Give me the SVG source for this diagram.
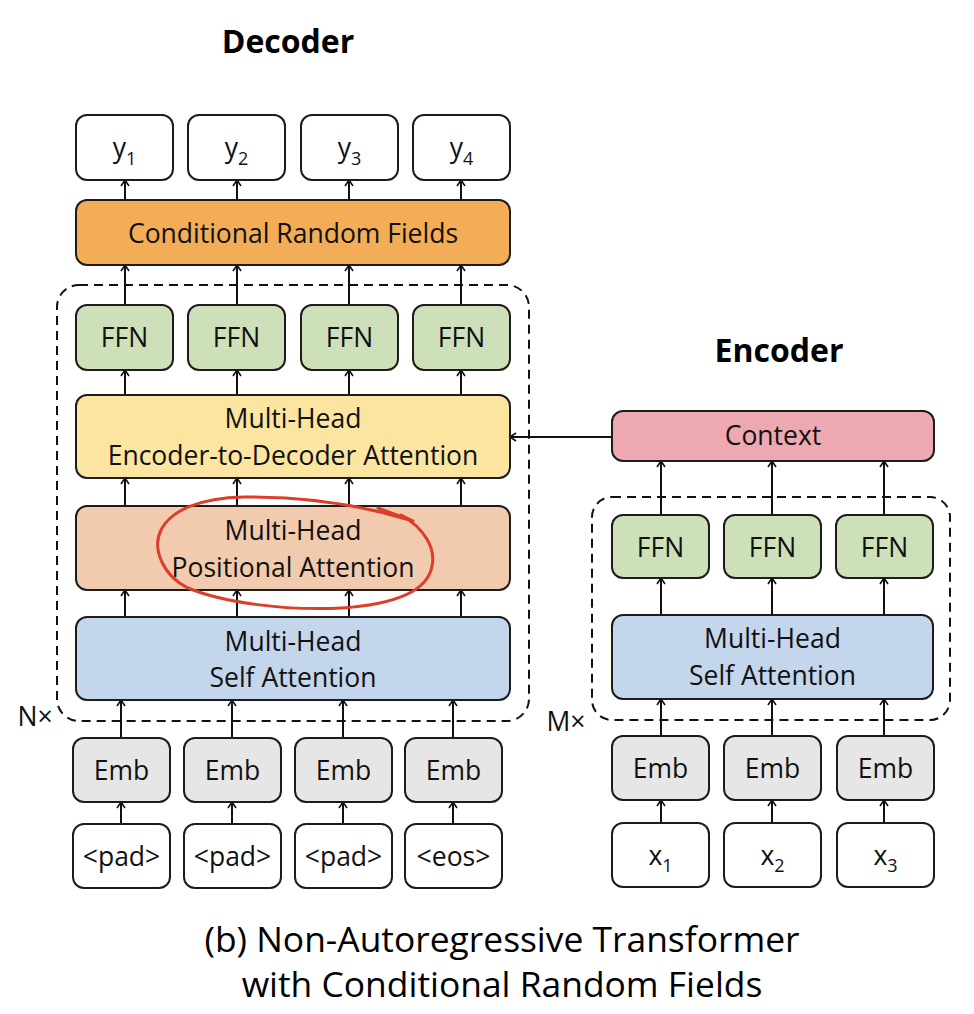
<svg xmlns="http://www.w3.org/2000/svg" width="974" height="1014" viewBox="0 0 974 1014">
<style>
.n{stroke:#1c1c1c;stroke-width:2}
.t{font-family:"Open Sans","Liberation Sans",sans-serif;font-size:26.5px;fill:#111;text-anchor:middle}
.sub{font-size:18px}
.title{font-family:"Open Sans","Liberation Sans",sans-serif;font-size:32px;font-weight:bold;fill:#000;text-anchor:middle}
.cap{font-family:"Open Sans","Liberation Sans",sans-serif;font-size:35.4px;fill:#000;text-anchor:middle}
.c line{stroke:#111;stroke-width:2;marker-end:url(#ah)}
.dash{fill:none;stroke:#111;stroke-width:2;stroke-dasharray:9 6}
.w{fill:#fff}.crf{fill:#F2AD56}.ffn{fill:#CDE0BA}.ed{fill:#FBE5A0}.pos{fill:#F2CBAE}.sa{fill:#C3D6EC}.emb{fill:#E7E6E6}.ctx{fill:#EEA8B2}
</style>
<defs>
<marker id="ah" viewBox="0 0 10 10" refX="9" refY="5" markerWidth="10" markerHeight="10" markerUnits="userSpaceOnUse" orient="auto">
<path d="M3,1 L9,5 L3,9" fill="none" stroke="#111" stroke-width="1.6"/>
</marker>
</defs>
<rect width="974" height="1014" fill="#fff"/>

<text class="title" x="288" y="53">Decoder</text>
<text class="title" x="779" y="362">Encoder</text>

<rect id="dec-block" class="dash" x="57" y="285" width="472" height="436" rx="22"/>
<rect id="enc-block" class="dash" x="592" y="497" width="358" height="223" rx="20"/>
<text class="t" x="35" y="726">N×</text>
<text class="t" x="566" y="731">M×</text>

<g class="c" id="connectors">
<line x1="125" y1="200" x2="125" y2="180"/><line x1="237" y1="200" x2="237" y2="180"/><line x1="349" y1="200" x2="349" y2="180"/><line x1="461" y1="200" x2="461" y2="180"/>
<line x1="125" y1="305" x2="125" y2="265"/><line x1="237" y1="305" x2="237" y2="265"/><line x1="349" y1="305" x2="349" y2="265"/><line x1="461" y1="305" x2="461" y2="265"/>
<line x1="125" y1="395" x2="125" y2="370"/><line x1="237" y1="395" x2="237" y2="370"/><line x1="349" y1="395" x2="349" y2="370"/><line x1="461" y1="395" x2="461" y2="370"/>
<line x1="125" y1="506" x2="125" y2="478"/><line x1="237" y1="506" x2="237" y2="478"/><line x1="349" y1="506" x2="349" y2="478"/><line x1="461" y1="506" x2="461" y2="478"/>
<line x1="125" y1="617" x2="125" y2="590"/><line x1="237" y1="617" x2="237" y2="590"/><line x1="349" y1="617" x2="349" y2="590"/><line x1="461" y1="617" x2="461" y2="590"/>
<line x1="121" y1="738" x2="121" y2="700"/><line x1="232" y1="738" x2="232" y2="700"/><line x1="343" y1="738" x2="343" y2="700"/><line x1="453" y1="738" x2="453" y2="700"/>
<line x1="121" y1="824" x2="121" y2="802"/><line x1="232" y1="824" x2="232" y2="802"/><line x1="343" y1="824" x2="343" y2="802"/><line x1="453" y1="824" x2="453" y2="802"/>
<line x1="612" y1="437" x2="510" y2="437"/>
<line x1="661" y1="515" x2="661" y2="461"/><line x1="772" y1="515" x2="772" y2="461"/><line x1="884" y1="515" x2="884" y2="461"/>
<line x1="661" y1="615" x2="661" y2="578"/><line x1="772" y1="615" x2="772" y2="578"/><line x1="884" y1="615" x2="884" y2="578"/>
<line x1="661" y1="736" x2="661" y2="699"/><line x1="772" y1="736" x2="772" y2="699"/><line x1="884" y1="736" x2="884" y2="699"/>
<line x1="661" y1="823" x2="661" y2="800"/><line x1="772" y1="823" x2="772" y2="800"/><line x1="884" y1="823" x2="884" y2="800"/>
</g>

<g id="y1"><rect class="n w" x="76" y="115" width="97" height="65" rx="11"/><text class="t" x="124.5" y="157">y<tspan class="sub" dy="8">1</tspan></text></g>
<g id="y2"><rect class="n w" x="188" y="115" width="97" height="65" rx="11"/><text class="t" x="236.5" y="157">y<tspan class="sub" dy="8">2</tspan></text></g>
<g id="y3"><rect class="n w" x="301" y="115" width="97" height="65" rx="11"/><text class="t" x="349.5" y="157">y<tspan class="sub" dy="8">3</tspan></text></g>
<g id="y4"><rect class="n w" x="413" y="115" width="97" height="65" rx="11"/><text class="t" x="461.5" y="157">y<tspan class="sub" dy="8">4</tspan></text></g>

<g id="crf"><rect class="n crf" x="76" y="200" width="434" height="65" rx="11"/><text class="t" x="293" y="243">Conditional Random Fields</text></g>

<g id="dffn1"><rect class="n ffn" x="76" y="305" width="97" height="65" rx="11"/><text class="t" x="124.5" y="347">FFN</text></g>
<g id="dffn2"><rect class="n ffn" x="188" y="305" width="97" height="65" rx="11"/><text class="t" x="236.5" y="347">FFN</text></g>
<g id="dffn3"><rect class="n ffn" x="301" y="305" width="97" height="65" rx="11"/><text class="t" x="349.5" y="347">FFN</text></g>
<g id="dffn4"><rect class="n ffn" x="413" y="305" width="97" height="65" rx="11"/><text class="t" x="461.5" y="347">FFN</text></g>

<g id="encdec"><rect class="n ed" x="76" y="395" width="434" height="83" rx="11"/><text class="t" x="293" y="428">Multi-Head</text><text class="t" x="293" y="465">Encoder-to-Decoder Attention</text></g>
<g id="posatt"><rect class="n pos" x="76" y="506" width="434" height="84" rx="11"/><text class="t" x="293" y="540">Multi-Head</text><text class="t" x="293" y="577">Positional Attention</text></g>
<g id="dselfatt"><rect class="n sa" x="76" y="617" width="434" height="83" rx="11"/><text class="t" x="293" y="651">Multi-Head</text><text class="t" x="293" y="687">Self Attention</text></g>

<g id="demb1"><rect class="n emb" x="73" y="738" width="97" height="64" rx="11"/><text class="t" x="121.5" y="780">Emb</text></g>
<g id="demb2"><rect class="n emb" x="184" y="738" width="97" height="64" rx="11"/><text class="t" x="232.5" y="780">Emb</text></g>
<g id="demb3"><rect class="n emb" x="295" y="738" width="97" height="64" rx="11"/><text class="t" x="343.5" y="780">Emb</text></g>
<g id="demb4"><rect class="n emb" x="405" y="738" width="97" height="64" rx="11"/><text class="t" x="453.5" y="780">Emb</text></g>

<g id="pad1"><rect class="n w" x="73" y="824" width="97" height="64" rx="11"/><text class="t" x="121.5" y="866">&lt;pad&gt;</text></g>
<g id="pad2"><rect class="n w" x="184" y="824" width="97" height="64" rx="11"/><text class="t" x="232.5" y="866">&lt;pad&gt;</text></g>
<g id="pad3"><rect class="n w" x="295" y="824" width="97" height="64" rx="11"/><text class="t" x="343.5" y="866">&lt;pad&gt;</text></g>
<g id="eos"><rect class="n w" x="405" y="824" width="97" height="64" rx="11"/><text class="t" x="453.5" y="866">&lt;eos&gt;</text></g>

<g id="context"><rect class="n ctx" x="612" y="411" width="322" height="50" rx="11"/><text class="t" x="773" y="445">Context</text></g>
<g id="effn1"><rect class="n ffn" x="612" y="515" width="97" height="63" rx="11"/><text class="t" x="660.5" y="557">FFN</text></g>
<g id="effn2"><rect class="n ffn" x="724" y="515" width="97" height="63" rx="11"/><text class="t" x="772.5" y="557">FFN</text></g>
<g id="effn3"><rect class="n ffn" x="836" y="515" width="97" height="63" rx="11"/><text class="t" x="884.5" y="557">FFN</text></g>
<g id="eselfatt"><rect class="n sa" x="612" y="615" width="321" height="84" rx="11"/><text class="t" x="772.5" y="648">Multi-Head</text><text class="t" x="772.5" y="685">Self Attention</text></g>
<g id="eemb1"><rect class="n emb" x="612" y="736" width="97" height="64" rx="11"/><text class="t" x="660.5" y="778">Emb</text></g>
<g id="eemb2"><rect class="n emb" x="724" y="736" width="97" height="64" rx="11"/><text class="t" x="772.5" y="778">Emb</text></g>
<g id="eemb3"><rect class="n emb" x="837" y="736" width="97" height="64" rx="11"/><text class="t" x="885.5" y="778">Emb</text></g>
<g id="x1"><rect class="n w" x="612" y="823" width="97" height="64" rx="11"/><text class="t" x="660.5" y="865">x<tspan class="sub" dy="7">1</tspan></text></g>
<g id="x2"><rect class="n w" x="724" y="823" width="97" height="64" rx="11"/><text class="t" x="772.5" y="865">x<tspan class="sub" dy="7">2</tspan></text></g>
<g id="x3"><rect class="n w" x="837" y="823" width="97" height="64" rx="11"/><text class="t" x="885.5" y="865">x<tspan class="sub" dy="7">3</tspan></text></g>

<path id="highlight" d="M378,508 L413,521 L401,515 C424,528 436,548 432,566 C428,590 398,604 342,608 C282,611 222,602 188,588 C162,575 152,548 161,530 C171,510 200,498 244,497 C300,496 358,504 413,521" fill="none" stroke="#DA3F2C" stroke-width="3" stroke-linecap="round" stroke-linejoin="round"/>

<text class="cap" x="502" y="952">(b) Non-Autoregressive Transformer</text>
<text class="cap" x="502" y="997">with Conditional Random Fields</text>
</svg>
